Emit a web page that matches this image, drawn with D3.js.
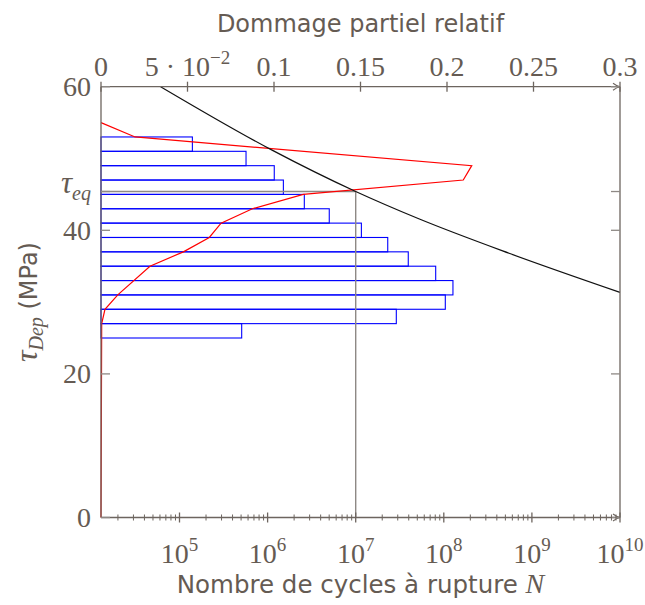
<!DOCTYPE html>
<html>
<head>
<meta charset="utf-8">
<script src="https://cdn.jsdelivr.net/npm/d3@7"></script>
<style>
  html, body { margin: 0; padding: 0; background: #fff; }
  svg { display: block; }
</style>
</head>
<body>
<div id="chart"></div>
<script>
// ---------- data ----------
const barTauCenters = [52, 50, 48, 46, 44, 42, 40, 38, 36, 34, 32, 30, 28, 26];
const barCycles = [1.40e5, 5.69e5, 1.19e6, 1.51e6, 2.61e6, 5.01e6, 1.16e7, 2.31e7, 3.95e7, 8.09e7, 1.27e8, 1.04e8, 2.89e7, 5.08e5];
const barBinWidth = 2; // MPa

const damageTau = [55, 53, 49, 47, 45, 43, 41, 39, 37, 35, 31, 29, 27, 0];
const damageValues = [0, 0.0197, 0.2143, 0.2094, 0.1169, 0.0875, 0.0694, 0.0626, 0.0476, 0.0283, 0.0097, 0.0023, 0.0004, 0];

const wohlerTau = [60, 51.2, 45.4, 41.6, 36.8, 31.35];
const wohlerN = [6.1e4, 1.11e6, 1e7, 5.2e7, 5.5e8, 1e10];

const tauEq = 45.4;
const nEq = 1e7;

const yTicks = [0, 20, 40, 60];
const topTicks = [0, 0.05, 0.1, 0.15, 0.2, 0.25, 0.3];
const topTickLabels = ["0", "5 · 10|−2", "0.1", "0.15", "0.2", "0.25", "0.3"];
const bottomExponents = [5, 6, 7, 8, 9, 10];

const nDomain = [1.285e4, 1e10];
const damageDomain = [0, 0.3];
const tauDomain = [0, 60];

// ---------- layout ----------
const W = 645, H = 605;
const L = 101, R = 620, T = 86.7, B = 517.5;
const textColor = "#655b53";
const axisColor = "#6d655f";
const eqColor = "#8e8985";
const serif = "'Liberation Serif', 'DejaVu Serif', serif";
const sans = "'DejaVu Sans', sans-serif";

const svg = d3.select("#chart").append("svg").attr("width", W).attr("height", H);

const x = d3.scaleLog().domain(nDomain).range([L, R]);
const xTop = d3.scaleLinear().domain(damageDomain).range([L, R]);
const y = d3.scaleLinear().domain(tauDomain).range([B, T]);

// ---------- bars ----------
svg.append("g").selectAll("rect").data(barTauCenters).join("rect")
  .attr("x", L)
  .attr("y", (d) => y(d + barBinWidth / 2))
  .attr("width", (d, i) => x(barCycles[i]) - L)
  .attr("height", (d) => y(d - barBinWidth / 2) - y(d + barBinWidth / 2))
  .attr("fill", "none")
  .attr("stroke", "#0000ff")
  .attr("stroke-width", 1.1);

// ---------- tau_eq guide lines ----------
svg.append("line").attr("x1", L).attr("x2", x(nEq)).attr("y1", y(tauEq)).attr("y2", y(tauEq))
  .attr("stroke", eqColor).attr("stroke-width", 1.4);
svg.append("line").attr("x1", x(nEq)).attr("x2", x(nEq)).attr("y1", y(tauEq)).attr("y2", B)
  .attr("stroke", eqColor).attr("stroke-width", 1.4);

// ---------- red damage curve ----------
const redLine = d3.line().x((d, i) => xTop(damageValues[i])).y((d) => y(d));
svg.append("path").attr("d", redLine(damageTau))
  .attr("fill", "none").attr("stroke", "#ff0000").attr("stroke-width", 1.2)
  .attr("stroke-linejoin", "miter");

// ---------- black Wöhler curve ----------
const blackLine = d3.line().x((d, i) => x(wohlerN[i])).y((d) => y(d)).curve(d3.curveMonotoneX);
svg.append("path").attr("d", blackLine(wohlerTau))
  .attr("fill", "none").attr("stroke", "#111").attr("stroke-width", 1.2);

// ---------- axes frame ----------
const frame = svg.append("g").attr("stroke", axisColor).attr("stroke-width", 1.3).attr("fill", "none");
frame.append("line").attr("x1", L).attr("x2", L).attr("y1", T).attr("y2", B);
frame.append("line").attr("x1", R).attr("x2", R).attr("y1", T).attr("y2", B);
frame.append("line").attr("x1", L).attr("x2", R - 1).attr("y1", T).attr("y2", T);
frame.append("line").attr("x1", L).attr("x2", R - 1).attr("y1", B).attr("y2", B);
// arrow heads
[T, B].forEach((yy) => {
  frame.append("path")
    .attr("d", `M${R - 7},${yy - 3.5} Q${R - 3},${yy - 0.5} ${R},${yy} Q${R - 3},${yy + 0.5} ${R - 7},${yy + 3.5}`)
    .attr("stroke-width", 1.1);
});

// left / right ticks (inward)
const yTickVals = yTicks.concat([tauEq]);
yTickVals.forEach((v) => {
  frame.append("line").attr("x1", L).attr("x2", L + 9).attr("y1", y(v)).attr("y2", y(v)).attr("stroke", eqColor);
  frame.append("line").attr("x1", R - 9).attr("x2", R).attr("y1", y(v)).attr("y2", y(v)).attr("stroke", eqColor);
});

// top ticks (crossing)
topTicks.forEach((v) => {
  frame.append("line").attr("x1", xTop(v)).attr("x2", xTop(v)).attr("y1", T - 5).attr("y2", T + 5);
});

// bottom major + minor ticks
const lo = Math.floor(Math.log10(nDomain[0])), hi = Math.log10(nDomain[1]);
for (let e = lo; e <= hi; e++) {
  for (let m = 1; m <= 9; m++) {
    const v = m * Math.pow(10, e);
    if (v < nDomain[0] || v > nDomain[1]) continue;
    const h = m === 1 ? 5 : 3;
    frame.append("line").attr("x1", x(v)).attr("x2", x(v)).attr("y1", B - h).attr("y2", B + h)
      .attr("stroke-width", m === 1 ? 1.3 : 1);
  }
}

// ---------- tick labels ----------
const lab = svg.append("g").attr("fill", textColor).attr("font-family", serif);

yTicks.forEach((v) => {
  lab.append("text").attr("x", 91).attr("y", y(v) + 9.5).attr("text-anchor", "end")
    .attr("font-size", 28).text(v);
});

// tau_eq label
const teq = lab.append("text").attr("x", 91).attr("y", y(tauEq) + 1).attr("text-anchor", "end")
  .attr("font-style", "italic");
teq.append("tspan").attr("font-size", 31).text("τ");
teq.append("tspan").attr("font-size", 20).attr("dy", 7).text("eq");

topTicks.forEach((v, i) => {
  const parts = topTickLabels[i].split("|");
  const t = lab.append("text").attr("x", xTop(v)).attr("y", 76).attr("text-anchor", "middle")
    .attr("font-size", 28).attr("xml:space", "preserve");
  t.append("tspan").text(parts[0]);
  if (parts[1]) t.append("tspan").attr("font-size", 19).attr("dy", -12).text(parts[1]);
});

bottomExponents.forEach((e) => {
  const t = lab.append("text").attr("x", x(Math.pow(10, e))).attr("y", 563).attr("text-anchor", "middle")
    .attr("font-size", 28);
  t.append("tspan").text("10");
  t.append("tspan").attr("font-size", 19).attr("dy", -12).text(e);
});

// ---------- axis titles ----------
svg.append("text").attr("x", (L + R) / 2).attr("y", 32).attr("text-anchor", "middle")
  .attr("fill", textColor).attr("font-family", sans).attr("font-size", 24)
  .text("Dommage partiel relatif");

const bt = svg.append("text").attr("x", (L + R) / 2).attr("y", 593).attr("text-anchor", "middle")
  .attr("fill", textColor).attr("font-family", sans).attr("font-size", 24.5);
bt.append("tspan").text("Nombre de cycles à rupture ");
bt.append("tspan").attr("font-family", serif).attr("font-style", "italic").attr("font-size", 28).text("N");

const yt = svg.append("text").attr("transform", `translate(37,302) rotate(-90)`)
  .attr("text-anchor", "middle").attr("fill", textColor).attr("font-size", 24);
yt.append("tspan").attr("font-family", serif).attr("font-style", "italic").attr("font-size", 32).text("τ");
yt.append("tspan").attr("font-family", serif).attr("font-style", "italic").attr("font-size", 20).attr("dy", 6).text("Dep");
yt.append("tspan").attr("font-family", sans).attr("dy", -6).text(" (MPa)");
</script>
</body>
</html>
